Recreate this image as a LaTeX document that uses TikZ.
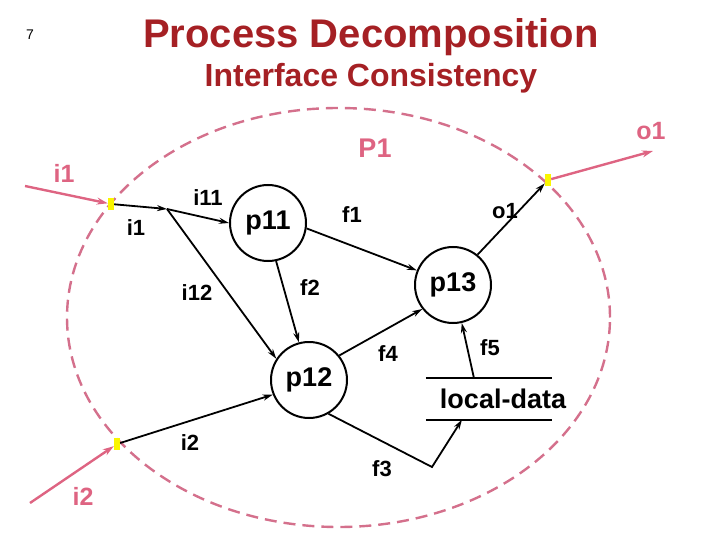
\documentclass[tikz,border=0pt]{standalone}
\usepackage{fontspec}
\setmainfont{Liberation Sans}
\usepackage{tikz}
\usetikzlibrary{arrows.meta}
\definecolor{titlered}{RGB}{165,32,36}
\definecolor{portpink}{RGB}{222,100,130}
\definecolor{bndpink}{RGB}{212,112,140}
\definecolor{portyellow}{RGB}{250,245,0}
\tikzset{
  procnode/.style={draw, circle, line width=2pt,
    minimum size=76pt, inner sep=0pt,
    font=\fontsize{27}{30}\selectfont\bfseries},
  flowlbl/.style={inner sep=0pt,
    font=\fontsize{22}{24}\selectfont\bfseries},
  extlbl/.style={inner sep=0pt, text=portpink,
    font=\fontsize{25}{28}\selectfont\bfseries},
  portbox/.style={fill=portyellow, inner sep=0pt,
    minimum width=6pt, minimum height=12pt},
  arr/.style={-{Stealth[length=10pt, width=6pt]}, line width=1.8pt},
  extarr/.style={-{Stealth[length=11pt, width=7pt]}, line width=2.4pt, portpink},
}

\begin{document}
\begin{tikzpicture}[x=1pt, y=-1pt]
  \useasboundingbox (0,0) rectangle (720,540);

  % Titles
  \node[font=\fontsize{14}{16}\selectfont] (pageno) at (30,35) {7};
  \node[font=\fontsize{40}{42}\selectfont\bfseries, text=titlered] (title)
    at (371,37) {Process Decomposition};
  \node[font=\fontsize{32}{34}\selectfont\bfseries, text=titlered] (subtitle)
    at (371,78) {Interface Consistency};

  % Boundary of P1
  \draw[bndpink, line width=2.4pt, dash pattern=on 12pt off 7pt]
    (338.5,317.5) ellipse [x radius=271.5pt, y radius=209.5pt];
  \node[inner sep=0pt, text=portpink,
        font=\fontsize{27}{30}\selectfont\bfseries] (bname) at (375,148) {P1};

  % Ports
  \node[portbox] (pi1) at (111,204) {};
  \node[portbox] (pi2) at (117,444) {};
  \node[portbox] (po1) at (548,180) {};

  % Processes
  \node[procnode] (p11) at (268,223) {p11};
  \node[procnode] (p12) at (309,380) {p12};
  \node[procnode] (p13) at (453,285) {p13};

  % Local data store
  \node[inner sep=0pt, minimum height=41pt,
        font=\fontsize{27}{30}\selectfont\bfseries] (ld) at (503,399) {local-data};
  \draw[line width=1.8pt] ([xshift=-14pt]ld.north west) -- ([xshift=-14pt]ld.north east);
  \draw[line width=1.8pt] ([xshift=-14pt]ld.south west) -- ([xshift=-14pt]ld.south east);

  % Outside flows
  \coordinate (i1src) at (25,186);
  \coordinate (i2src) at (30,503);
  \coordinate (o1dst) at (653,151);
  \draw[extarr] (i1src) -- (pi1);
  \draw[extarr] (i2src) -- (pi2);
  \draw[extarr] (po1) -- (o1dst);
  \node[extlbl] (li1) at (64,173) {i1};
  \node[extlbl] (li2) at (83,496) {i2};
  \node[extlbl] (lo1) at (651,131) {o1};

  % Inside flows
  \coordinate (j1) at (167,209);
  \coordinate (bend) at (432,467);
  \draw[arr] (pi1) -- (j1);
  \draw[arr] (j1) -- (p11.west);
  \draw[arr] (j1) -- (p12.147);
  \draw[arr] (p11.-78) -- (p12.105);
  \draw[arr] (p11.-8) -- (p13.158);
  \draw[arr] (p12.39) -- (p13.218);
  \draw[arr] (pi2) -- (p12.202);
  \draw[arr] (p12.-60) -- (bend) -- ([xshift=-41pt]ld.south);
  \draw[arr] ([xshift=-29pt]ld.north) -- (p13.283);

  % Flow labels
  \node[flowlbl] (fi1) at (136,228) {i1};
  \node[flowlbl] (fi11) at (208,198) {i11};
  \node[flowlbl] (fi12) at (197,293) {i12};
  \node[flowlbl] (fi2) at (190,443) {i2};
  \node[flowlbl] (ff1) at (352,215) {f1};
  \node[flowlbl] (ff2) at (310,288) {f2};
  \node[flowlbl] (ff3) at (382,469) {f3};
  \node[flowlbl] (ff4) at (388,354) {f4};
  \node[flowlbl] (ff5) at (490,348) {f5};
  \node[flowlbl] (fo1) at (505,211) {o1};
  \draw[arr] (p13.51) -- (po1);
\end{tikzpicture}
\end{document}
